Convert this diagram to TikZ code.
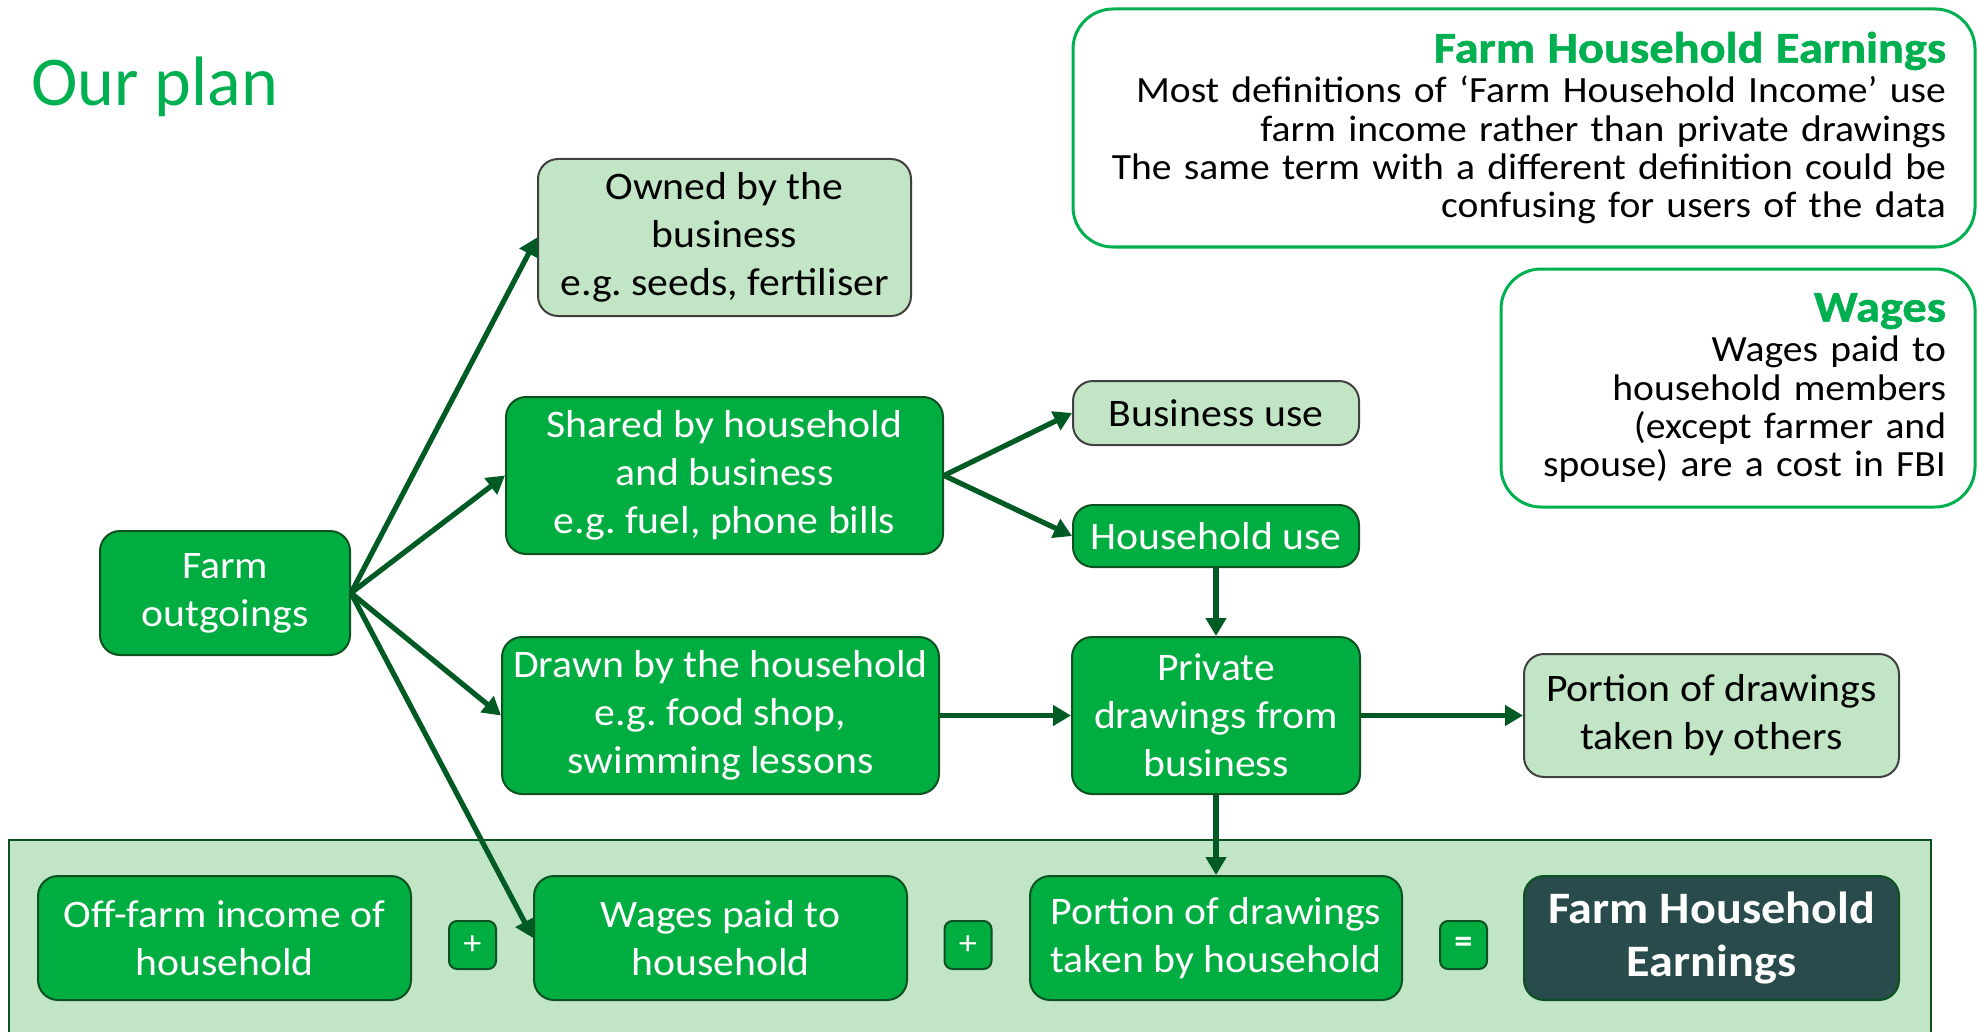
\documentclass[tikz,border=0pt]{standalone}
\usepackage{tikz}
\usepackage{xcolor}
\usepackage{fontspec}
\setmainfont{Carlito}[FakeStretch=1.07]
\newfontfamily\plainfont{Carlito}
\newfontfamily\heavyfont{Carlito Bold}[FakeStretch=1.1,FakeBold=1.2]
\usetikzlibrary{arrows.meta}
\usetikzlibrary{positioning}
\frenchspacing

\definecolor{boxgreen}{RGB}{0,173,65}
\definecolor{boxline}{RGB}{12,82,32}
\definecolor{arrowgreen}{RGB}{0,90,35}
\definecolor{palegreen}{RGB}{193,229,197}
\definecolor{greyline}{RGB}{64,64,64}
\definecolor{titlegreen}{RGB}{0,176,80}
\definecolor{darkteal}{RGB}{41,75,75}

\tikzset{
    box/.style={draw=boxline, fill=boxgreen, text=white, rounded corners=10pt, line width=1pt,
        align=center, inner sep=0pt, font=\fontsize{19.5}{24}\selectfont},
    lightbox/.style={box, draw=greyline, fill=palegreen, text=black},
    signbox/.style={box, rounded corners=4pt, minimum width=23.5pt, minimum height=24pt,
        font=\fontsize{17}{18}\selectfont},
    notebox/.style={draw=titlegreen, line width=1.5pt, rounded corners=20pt, align=right,
        inner xsep=14.5pt, inner ysep=0pt, font=\fontsize{18.5}{19.2}\selectfont},
    link/.style={draw=arrowgreen, line width=2.6pt, -{Triangle[length=9pt,width=10pt]}}
}

\begin{document}
\begin{tikzpicture}[x=0.5pt,y=-0.5pt]
        \useasboundingbox (0,0) rectangle (1979,1032);
        %Heading
            \node[anchor=base west, inner sep=0pt, text=titlegreen, font=\fontsize{35}{40}\plainfont] (plan) at (31,106) {Our plan};
        %Notes
            \node[notebox, text width=422pt, minimum width=451pt, minimum height=119pt] (fhenote) at (1524,128)
                {{\fontsize{22}{22}\heavyfont\color{titlegreen}Farm Household Earnings}\\[0.8pt]
                Most definitions of ‘Farm Household Income’ use\\
                farm income rather than private drawings\\
                The same term with a different definition could be\\
                confusing for users of the data};
            \node[notebox, text width=208pt, minimum width=237pt, minimum height=119pt] (wagenote) at (1738,388)
                {{\fontsize{22}{22}\heavyfont\color{titlegreen}Wages}\\[0.8pt]
                Wages paid to\\
                household members\\
                (except farmer and\\
                spouse) are a cost in FBI};
        %Earnings band
            \draw[fill=palegreen, draw=boxline, line width=1pt] (9,840) rectangle (1931,1060);
        %Outgoings and where they go
            \node[box, minimum width=125pt, minimum height=62pt] (out) at (225,593) {Farm\\outgoings};
            \node[lightbox, minimum width=186.5pt, minimum height=78.5pt] (owned) at (724.5,237.5) {Owned by the\\business\\e.g. seeds, fertiliser};
            \node[box, minimum width=218.5pt, minimum height=78.5pt] (shared) at (724.5,475.5) {Shared by household\\and business\\e.g. fuel, phone bills};
            \node[box, minimum width=218.5pt, minimum height=78.5pt] (drawn) at (720.5,715.5) {Drawn by the household\\e.g. food shop,\\swimming lessons};
            \node[lightbox, minimum width=143pt, minimum height=32pt] (bususe) at (1216,413) {Business use};
            \node[box, minimum width=143pt, minimum height=31pt] (hhuse) at (1216,536) {Household use};
            \node[box, minimum width=144pt, minimum height=78.5pt] (private) at (1216,715.5) {Private\\drawings from\\business};
            \node[lightbox, minimum width=187.5pt, minimum height=61.5pt] (others) at (1711.5,715.5) {Portion of drawings\\taken by others};
        %The sum
            \node[box, minimum width=186.5pt, minimum height=62pt] (offfarm) at (224.5,938) {Off-farm income of\\household};
            \node[signbox] (plusa) at (472.5,945) {+};
            \node[box, minimum width=186.5pt, minimum height=62pt] (wagepaid) at (720.5,938) {Wages paid to\\household};
            \node[signbox] (plusb) at (968,945) {+};
            \node[box, minimum width=186pt, minimum height=62pt] (hhportion) at (1216,938) {Portion of drawings\\taken by household};
            \node[signbox, font=\fontsize{17}{18}\selectfont\bfseries] (equals) at (1463.5,945) {=};
            \node[box, fill=darkteal, minimum width=187.5pt, minimum height=62pt, font=\fontsize{22.5}{26.5}\selectfont\bfseries] (fhe) at (1711.5,938) {Farm Household\\Earnings};
        %Arrows
            \foreach \target in {owned,shared,drawn,wagepaid}
            {
                \draw[link] (out.east) -- (\target.west);
            }
            \draw[link] (shared.east) -- (bususe.west);
            \draw[link] (shared.east) -- (hhuse.west);
            \draw[link] (hhuse.south) -- (private.north);
            \draw[link] (drawn.east) -- (private.west);
            \draw[link] (private.east) -- (others.west);
            \draw[link] (private.south) -- (hhportion.north);
    \end{tikzpicture}
\end{document}
